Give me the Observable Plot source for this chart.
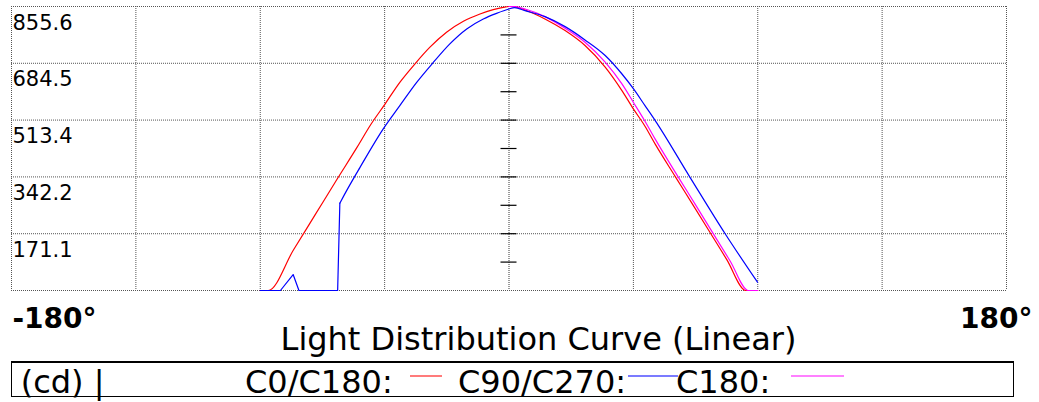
<!DOCTYPE html>
<html><head><meta charset="utf-8">
<script src="https://cdn.jsdelivr.net/npm/d3@7"></script>
<script src="https://cdn.jsdelivr.net/npm/@observablehq/plot@0.6"></script>
<style>
body{margin:0;background:#fff;font-family:"DejaVu Sans",sans-serif;}
#wrap{position:relative;width:1039px;height:402px;overflow:hidden;background:#fff;}
#chart{position:absolute;left:0;top:0;}
#title{position:absolute;left:0;width:1077px;top:323px;text-align:center;font-size:32px;line-height:32px;white-space:nowrap;color:#000;}
#legend{position:absolute;left:11px;top:361px;width:1003px;height:36px;box-sizing:border-box;border:1px solid #000;border-top:2px solid #000;}
#legend span.t{position:absolute;top:3px;font-size:32px;line-height:32px;white-space:pre;color:#000;}
#legend span.l{position:absolute;top:12px;height:2px;}
</style>
</head><body>
<div id="wrap">
  <div id="chart"></div>
  <div id="title"></div>
  <div id="legend"></div>
</div>
<script>
// ---- data ----
const xLimits = [-180, 180];
const xGridAngles = [-180, -135, -90, -45, 45, 90, 135, 180];
const yTickValues = [171.1, 342.2, 513.4, 684.5, 855.6];
const yTickLabels = ["171.1", "342.2", "513.4", "684.5", "855.6"];
const centerTickValues = [85.6, 171.1, 256.7, 342.2, 427.8, 513.4, 598.9, 684.5, 770.0];
const xEdgeLabels = ["-180°", "180°"];

const c0Angles = [-90, -87.1, -78, -70, -62, -55, -50, -45, -39.5, -34, -28.6, -22.6, -16.5, -10.5, -5.7, -2.1, 0, 2, 5.8, 13, 20.3, 27.5, 34.8, 40.8, 45, 49.2, 52.9, 60.1, 66.1, 72.8, 78.8, 85.7, 90];
const c0Values = [0, 0, 122, 230, 338, 431, 500, 560, 627, 683, 733, 778, 811, 833, 846, 853, 855.6, 855, 845, 818, 783, 738, 673, 603, 547, 495, 441, 344, 264, 174, 93, 0, 0];

const c90Angles = [-90, -82.7, -78.1, -76, -62, -61.2, -59.4, -53.9, -45.5, -39.5, -33.4, -27.4, -21.4, -15.3, -9.3, -4.5, 0, 2, 5.8, 13, 20.3, 27.5, 34.8, 40.8, 45, 49.2, 52.9, 65.5, 78.2, 89.9];
const c90Values = [0, 0, 48, 0, 0, 263, 291, 371, 487, 557, 627, 687, 743, 788, 818, 835, 848, 852, 843, 825, 795, 755, 708, 653, 608, 557, 512, 341, 171, 25];
const c90StepIndex = 5; // samples before this index form the low jagged part

const c180Angles = [0, 2, 5.8, 13, 20.3, 27.5, 34.8, 40.8, 45, 49.2, 52.9, 61.3, 67.5, 74, 80, 86.6, 90];
const c180Values = [855.6, 855, 848, 825, 790, 748, 688, 623, 567, 510, 456, 341, 258, 170, 89, 0, 0];

const legendItems = ["C0/C180:", "C90/C270:", "C180:"];
const legendColors = ["#ff7b7b", "#7b7bff", "#ff80ff"];

const titleText = "Light Distribution Curve (Linear)";
const unitText = "(cd) |";

// ---- build ----
const toRows = (a, v) => a.map((x, i) => ({angle: x, value: v[i]}));
const c0 = toRows(c0Angles, c0Values);
const c90 = toRows(c90Angles, c90Values);
const c90Low = c90.slice(0, c90StepIndex + 1);
const c90High = c90.slice(c90StepIndex);
const c180 = toRows(c180Angles, c180Values);

const grid = {stroke: "#555", strokeWidth: 1, strokeDasharray: "1,1"};

const plot = Plot.plot({
  width: 1039,
  height: 330,
  marginLeft: 11,
  marginRight: 33,
  marginTop: 6,
  marginBottom: 40,
  x: {domain: xLimits, axis: null},
  y: {domain: [0, 855.6], axis: null},
  style: {fontFamily: "DejaVu Sans", background: "white", color: "#000", overflow: "visible"},
  marks: [
    Plot.ruleX(xGridAngles, grid),
    Plot.ruleY([0, ...yTickValues], grid),
    Plot.ruleX([0], {stroke: "#9a9a9a", strokeWidth: 2, strokeDasharray: "1,1"}),
    Plot.ruleY(centerTickValues, {x1: 0, x2: 0, insetLeft: -8, insetRight: -8, stroke: "#000", strokeWidth: 1.2}),
    Plot.line(c0, {x: "angle", y: "value", stroke: "#ff0000", strokeWidth: 1.2, curve: "monotone-x"}),
    Plot.line(c180, {x: "angle", y: "value", stroke: "#ff00ff", strokeWidth: 1.2, curve: "monotone-x"}),
    Plot.line(c90Low, {x: "angle", y: "value", stroke: "#0000ff", strokeWidth: 1.2, curve: "linear"}),
    Plot.line(c90High, {x: "angle", y: "value", stroke: "#0000ff", strokeWidth: 1.2, curve: "monotone-x"}),
    Plot.text(yTickValues, {x: -180, y: d => d, text: (d, i) => yTickLabels[i], textAnchor: "start", lineAnchor: "bottom", dx: 1, dy: 23, fontSize: 21, fill: "#000"}),
    Plot.text([xEdgeLabels[0]], {x: -180, y: 0, text: d => d, textAnchor: "start", lineAnchor: "bottom", dx: 1, dy: 37, fontSize: 28, fontWeight: "bold", fill: "#000"}),
    Plot.text([xEdgeLabels[1]], {x: 180, y: 0, text: d => d, textAnchor: "end", lineAnchor: "bottom", dx: 26, dy: 37, fontSize: 28, fontWeight: "bold", fill: "#000"})
  ]
});
document.getElementById("chart").appendChild(plot);

document.getElementById("title").textContent = titleText;

const legend = document.getElementById("legend");
const addSpan = (cls, left, text, width, color) => {
  const s = document.createElement("span");
  s.className = cls;
  s.style.left = left + "px";
  if (text) s.textContent = text;
  if (width) { s.style.width = width + "px"; s.style.background = color; }
  legend.appendChild(s);
};
addSpan("t", 8.7, unitText);
const textLefts = [233, 446, 664];
const lineLefts = [398, 616, 779];
const lineWidths = [32, 50, 53];
legendItems.forEach((t, i) => {
  addSpan("t", textLefts[i], t);
  addSpan("l", lineLefts[i], null, lineWidths[i], legendColors[i]);
});
</script>
</body></html>
